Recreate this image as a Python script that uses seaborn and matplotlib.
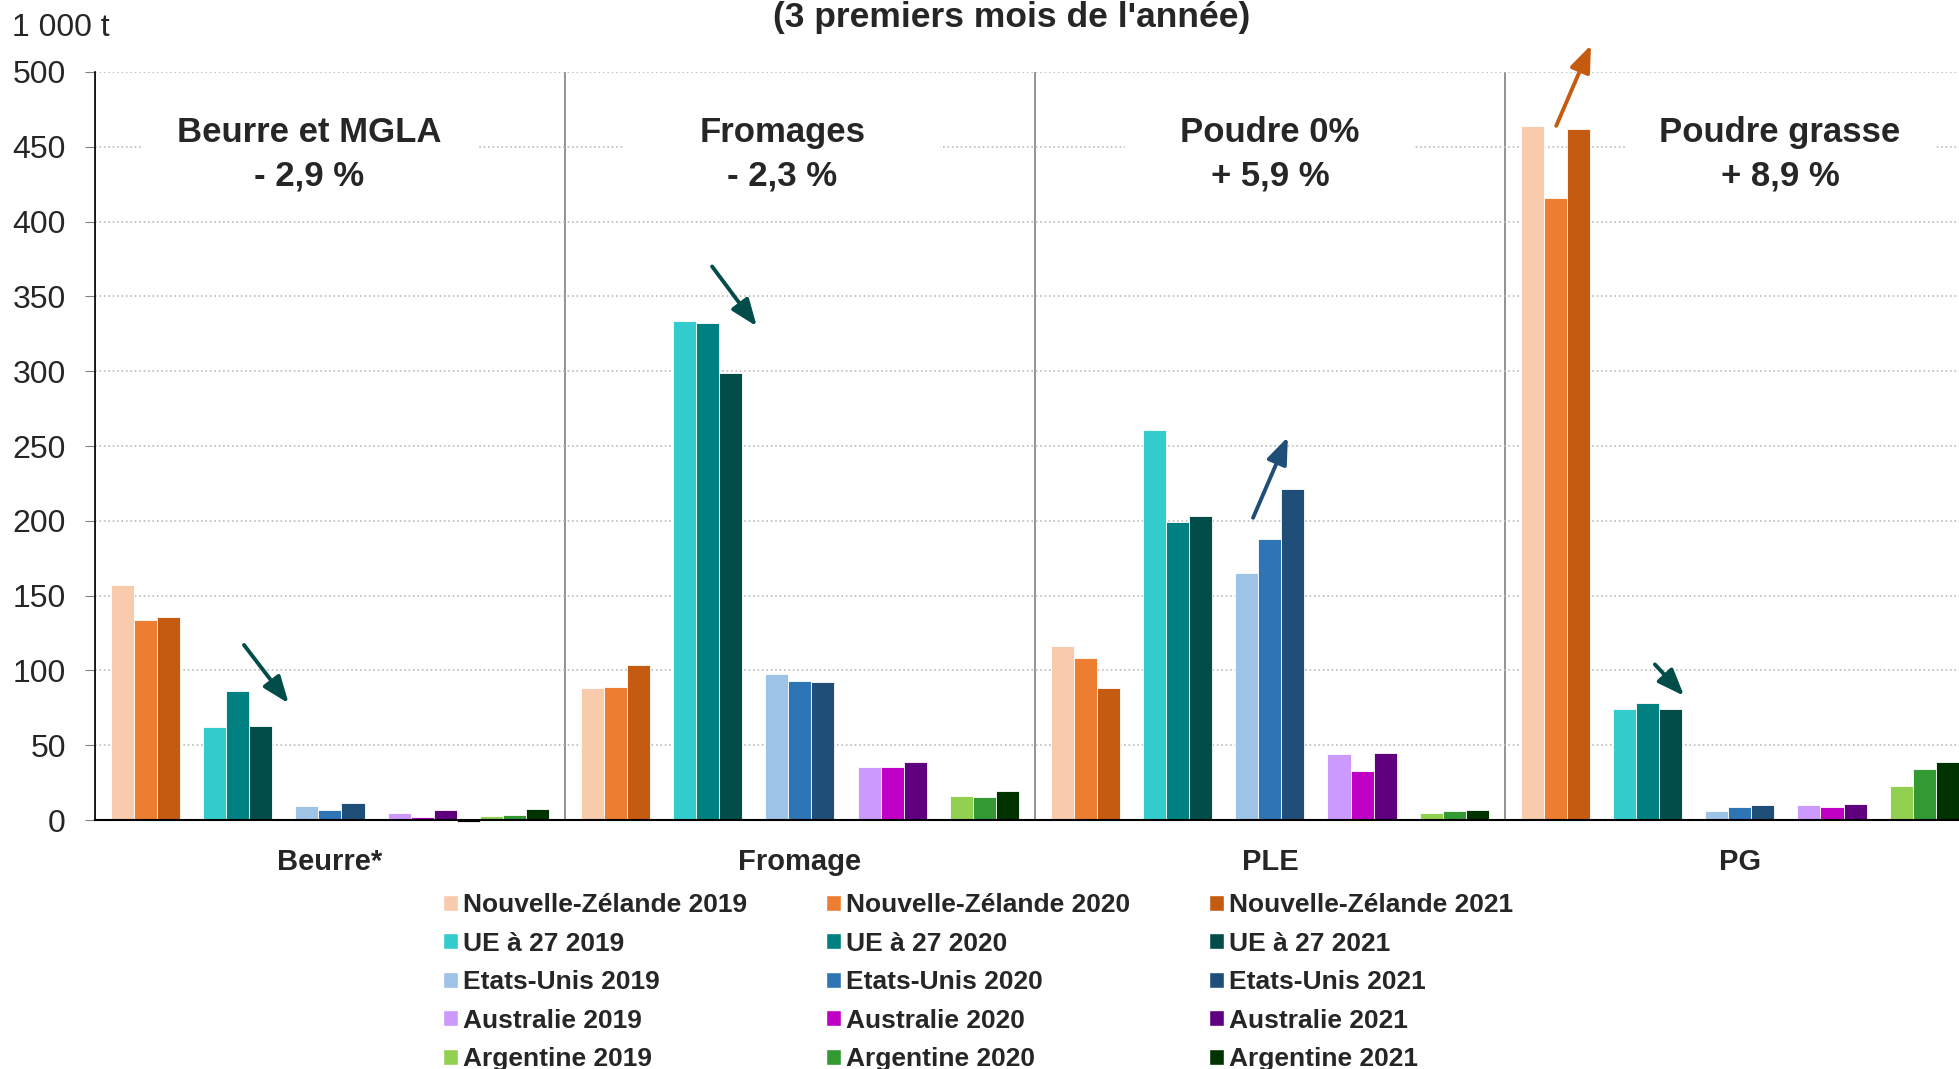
import pandas as pd
import numpy as np
import matplotlib.pyplot as plt
import seaborn as sns
from matplotlib.patches import Patch, Rectangle

# --- Data (1 000 t, 3 premiers mois de l'année) ---
produits = ["Beurre*", "Fromage", "PLE", "PG"]
pays = ["Nouvelle-Zélande", "UE à 27", "Etats-Unis", "Australie", "Argentine"]
annees = ["2019", "2020", "2021"]

nz_2019 = [157, 88, 116.5, 464]
nz_2020 = [133.5, 89, 108.5, 416]
nz_2021 = [135.5, 103.5, 88, 462]
ue_2019 = [62.5, 333.5, 260.5, 74]
ue_2020 = [86, 332.5, 199, 78]
ue_2021 = [63, 298.5, 203.5, 74.5]
us_2019 = [9.5, 97.5, 165, 6]
us_2020 = [6.5, 93, 188, 9]
us_2021 = [11.5, 92.5, 221, 10]
au_2019 = [5, 35.5, 44, 10]
au_2020 = [2, 35.5, 33, 9]
au_2021 = [6.5, 39, 45, 11]
ar_2019 = [2.5, 16, 5, 22.5]
ar_2020 = [3.5, 15.5, 6, 34]
ar_2021 = [7.5, 19.5, 7, 38.5]
# empty separator column between Australie and Argentine (shows a tiny negative value for Beurre)
sep_beurre = -1.5

valeurs = {
    "Nouvelle-Zélande": [nz_2019, nz_2020, nz_2021],
    "UE à 27": [ue_2019, ue_2020, ue_2021],
    "Etats-Unis": [us_2019, us_2020, us_2021],
    "Australie": [au_2019, au_2020, au_2021],
    "Argentine": [ar_2019, ar_2020, ar_2021],
}

couleurs = {
    "Nouvelle-Zélande": ["#F8CBAD", "#ED7D31", "#C55A11"],
    "UE à 27": ["#33CCCC", "#008080", "#024D4A"],
    "Etats-Unis": ["#9DC3E6", "#2E75B6", "#1F4E79"],
    "Australie": ["#CC99FF", "#C000C4", "#5F007F"],
    "Argentine": ["#92D050", "#339933", "#003300"],
}

# build long table + hue order with blank spacer slots between countries
rows = []
hue_order = []
palette = {}
for i, p in enumerate(pays):
    for j, a in enumerate(annees):
        serie = f"{p} {a}"
        hue_order.append(serie)
        palette[serie] = couleurs[p][j]
        for k, prod in enumerate(produits):
            rows.append({"produit": prod, "serie": serie, "valeur": valeurs[p][j][k]})
    if i < len(pays) - 1:
        sp = " " * (i + 1)
        hue_order.append(sp)
        palette[sp] = "black"
rows.append({"produit": "Beurre*", "serie": "    ", "valeur": sep_beurre})
df = pd.DataFrame(rows)

# --- Plot ---
sns.set_style("white")
plt.rcParams["font.family"] = ["Liberation Sans", "DejaVu Sans"]

fig = plt.figure(figsize=(19.59, 10.69), dpi=100)
ax = fig.add_axes([95 / 1959, 249 / 1069, 1864 / 1959, 748 / 1069])

sns.barplot(data=df, x="produit", y="valeur", hue="serie", hue_order=hue_order,
            order=produits, palette=palette, width=0.93, errorbar=None,
            saturation=1, edgecolor="white", linewidth=0.6, legend=False,
            ax=ax, zorder=3)
for b in ax.patches:
    b.set_clip_on(False)

ax.set_xlim(-0.5, 3.466)
ax.set_ylim(0, 500)
ax.set_yticks(np.arange(0, 501, 50))
ax.yaxis.grid(True, color="#BBBBBB", linestyle=":", linewidth=1.2)
ax.set_axisbelow(True)

# category separators
ax.set_xticks([-0.5, 0.5, 1.5, 2.5], minor=True)
ax.xaxis.grid(True, which="minor", color="#808080", linewidth=1.2)
ax.tick_params(axis="x", which="minor", length=14, width=1.2, color="#808080", direction="out")
ax.tick_params(axis="x", which="major", length=0, pad=20, labelsize=21)
for lab in ax.get_xticklabels():
    lab.set_fontweight("bold")
ax.tick_params(axis="y", length=7, color="#808080", labelsize=23, left=True, pad=14)

for s in ["top", "right"]:
    ax.spines[s].set_visible(False)
ax.spines["left"].set_color("black")
ax.spines["bottom"].set_color("black")
ax.spines["bottom"].set_linewidth(1.5)
ax.spines["left"].set_linewidth(1.2)
ax.spines["bottom"].set_zorder(6)
ax.spines["left"].set_zorder(6)
ax.set_xlabel("")
ax.set_ylabel("")

# product labels with white boxes over the gridline
etiquettes = [
    (-0.045, 0.715, "Beurre et MGLA\n- 2,9 %"),
    (0.962, 0.672, "Fromages\n- 2,3 %"),
    (2.000, 0.615, "Poudre 0%\n+ 5,9 %"),
    (3.085, 0.660, "Poudre grasse\n+ 8,9 %"),
]
for xc, w, txt in etiquettes:
    ax.add_patch(Rectangle((xc - w / 2, 412), w, 70, facecolor="white",
                           edgecolor="none", zorder=2.5))
    ax.text(xc, 445, txt, ha="center", va="center", fontsize=25,
            fontweight="bold", linespacing=1.38, zorder=4)

# trend arrows
fleches = [
    ((-0.183, 117), (-0.088, 78), "#024D4A"),
    ((0.813, 370), (0.908, 330), "#024D4A"),
    ((1.964, 202), (2.038, 256), "#1F4E79"),
    ((2.609, 464), (2.683, 518), "#C55A11"),
    ((2.819, 104), (2.881, 83), "#024D4A"),
]
for (x0, y0), (x1, y1), c in fleches:
    ax.annotate("", xy=(x1, y1), xytext=(x0, y0), annotation_clip=False,
                arrowprops=dict(arrowstyle="-|>,head_length=0.9,head_width=0.35",
                                color=c, lw=2.8, mutation_scale=18, shrinkA=0, shrinkB=0),
                zorder=5)

fig.text(12 / 1959, 1 - 28 / 1069, "1 000 t", fontsize=23, ha="left", va="center")
fig.text(1012 / 1959, 1 - 18 / 1069, "(3 premiers mois de l'année)", fontsize=25.5,
         fontweight="bold", ha="center", va="center")

# legend, 3 columns by year
handles = []
for a_idx, a in enumerate(annees):
    for p in pays:
        handles.append(Patch(facecolor=couleurs[p][a_idx], label=f"{p} {a}"))
leg = fig.legend(handles=handles, ncol=3, loc="upper left",
                 bbox_to_anchor=(443 / 1959, 1 - 893 / 1069), frameon=False,
                 prop={"weight": "bold", "size": 19}, handlelength=0.55,
                 handleheight=0.55, handletextpad=0.2, columnspacing=3.0,
                 labelspacing=0.55, borderpad=0, borderaxespad=0)

fig.savefig("out.png", dpi=100)
